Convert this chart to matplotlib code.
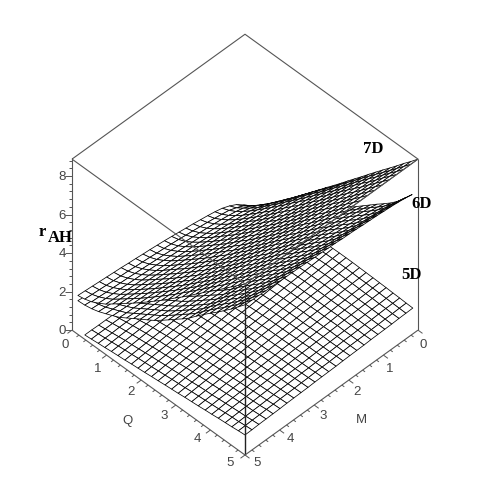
import numpy as np
import matplotlib
matplotlib.use("Agg")
import matplotlib.pyplot as plt
from mpl_toolkits.mplot3d import proj3d

# Sample positions of each mesh
Q_6D_7D = [.17,.37,.57,.77,.98,1.18,1.38,1.58,1.78,1.98,2.18,2.38,2.59,2.79,2.99,3.19,3.39,3.59,3.79,3.99,4.20,4.40,4.60,4.80,5]
M_7D = [0,.21,.42,.62,.83,1.04,1.25,1.46,1.67,1.88,2.08,2.29,2.5,2.71,2.92,3.12,3.33,3.54,3.75,3.96,4.17,4.38,4.58,4.79,5]
M_6D = [.17,.37,.57,.77,.98,1.18,1.38,1.58,1.78,1.98,2.18,2.38,2.59,2.79,2.99,3.19,3.39,3.59,3.79,3.99,4.20,4.40,4.60,4.80,5]
Q_5D = [.37,.56,.76,.95,1.14,1.33,1.53,1.72,1.91,2.10,2.30,2.49,2.69,2.88,3.07,3.26,3.46,3.65,3.85,4.04,4.23,4.43,4.62,4.81,5]
M_5D = [.15,.35,.55,.76,.96,1.16,1.36,1.56,1.77,1.97,2.17,2.37,2.58,2.78,2.98,3.18,3.38,3.59,3.79,3.99,4.19,4.39,4.60,4.80,5]

# r_AH in hundredths; one row per M, one column per Q
R_7D = [
[2,32,69,105,142,179,217,254,291,328,365,402,440,477,515,552,589,627,664,701,739,776,814,850,888],
[51,73,101,132,166,201,236,271,307,343,379,414,451,487,524,560,596,633,669,705,742,778,815,851,888],
[80,99,123,152,183,217,250,284,318,354,389,424,459,495,531,566,601,638,673,709,745,781,817,852,888],
[99,115,139,165,195,227,260,293,327,361,395,429,465,500,535,569,605,641,676,711,746,781,818,853,888],
[114,129,149,175,205,236,268,300,333,366,401,434,469,503,538,572,607,643,678,712,747,783,818,853,888],
[123,136,156,181,210,241,272,304,335,369,403,436,470,505,540,573,608,643,678,713,748,783,818,853,888],
[130,142,162,186,214,244,275,307,338,371,405,438,472,506,541,574,609,644,679,713,748,783,818,853,888],
[136,148,167,190,218,248,279,310,340,373,406,439,473,507,542,575,610,645,680,714,749,784,819,853,888],
[142,153,171,194,222,251,281,312,342,375,408,441,474,508,543,576,611,645,680,714,749,784,819,853,888],
[147,158,175,198,225,254,284,314,344,377,409,442,476,509,544,577,611,646,681,715,749,784,819,853,888],
[152,162,179,202,228,257,287,317,347,379,411,443,477,510,544,577,612,646,681,715,749,784,819,853,888],
[157,167,183,205,232,260,289,319,349,381,412,445,478,511,545,578,612,647,682,715,750,785,819,853,888],
[162,171,187,209,235,263,292,322,351,382,414,447,479,512,546,579,613,647,682,716,750,785,819,853,888],
[166,175,191,212,237,265,294,324,353,384,416,448,480,513,547,580,614,648,683,716,750,785,819,853,888],
[170,178,194,215,240,268,297,326,355,386,417,449,481,514,548,581,614,648,683,716,751,785,820,853,888],
[173,182,197,218,243,270,299,328,357,387,418,450,482,515,549,581,615,649,683,717,751,785,820,853,888],
[177,185,200,221,245,272,301,330,359,389,420,451,483,516,549,582,616,649,684,717,751,785,820,853,888],
[180,188,203,223,247,274,303,332,360,390,421,452,484,517,550,582,616,650,684,717,751,786,820,854,888],
[184,192,206,226,250,277,305,334,362,392,422,453,485,518,551,583,616,650,684,718,752,786,820,854,888],
[187,194,209,228,252,279,307,335,363,393,423,454,486,518,551,584,617,651,685,718,752,786,820,854,888],
[190,197,211,230,254,281,309,337,365,394,424,455,487,519,552,584,617,651,685,718,752,786,820,854,888],
[193,200,214,233,256,283,310,338,366,396,426,456,488,520,553,585,618,652,685,719,752,786,820,854,888],
[196,203,216,235,258,285,312,340,368,397,427,457,489,521,553,585,618,652,686,719,753,787,820,854,888],
[199,206,219,237,260,287,314,342,369,398,428,458,490,521,554,586,619,652,686,719,753,787,820,854,888],
[202,209,221,240,262,289,316,344,371,400,429,459,491,522,555,586,619,653,686,720,753,787,821,854,888],
]
R_6D = [
[10,30,55,80,110,140,170,200,238,262,290,315,342,370,398,425,455,485,515,545,575,605,640,683,726],
[49,75,98,121,145,171,195,219,245,269,296,321,348,376,404,431,461,492,522,553,583,614,649,691,733],
[62,86,107,129,152,177,201,224,250,273,300,325,352,380,408,435,465,497,528,558,589,620,655,696,738],
[72,94,114,135,157,181,205,228,253,277,303,328,355,383,411,439,469,500,532,562,593,624,659,700,742],
[81,101,120,140,162,185,208,232,257,280,306,330,358,386,414,441,471,504,535,566,597,628,663,704,745],
[88,107,125,144,166,188,211,234,259,283,308,333,360,388,416,444,474,506,538,569,600,632,666,707,748],
[95,113,130,149,170,192,214,237,262,285,311,335,362,390,419,446,476,509,541,572,603,635,670,710,750],
[101,118,134,152,173,194,216,239,264,287,313,337,364,392,421,448,478,511,543,574,606,638,672,712,752],
[107,123,138,156,176,197,218,242,266,290,314,338,366,394,422,450,480,513,545,577,608,641,675,715,755],
[113,127,142,159,179,200,220,244,268,292,316,340,368,396,424,452,482,515,547,579,611,643,678,717,757],
[117,131,145,162,181,202,222,246,270,293,318,341,369,397,426,453,483,517,549,581,613,645,680,719,758],
[123,136,149,165,184,204,224,248,272,295,319,343,371,399,427,455,485,519,551,583,615,648,682,721,761],
[127,139,152,168,187,206,226,250,274,297,321,344,372,400,429,456,486,521,553,585,617,650,684,723,762],
[132,143,155,170,189,208,228,251,275,298,322,346,374,402,430,458,488,522,555,587,619,652,686,725,764],
[136,146,158,173,191,210,230,253,277,300,324,347,375,403,432,459,489,524,557,589,621,654,688,727,765],
[140,150,161,175,194,212,231,255,278,302,325,348,376,404,433,461,491,525,558,591,623,656,690,729,767],
[145,153,164,178,196,214,233,256,280,303,326,350,378,406,434,462,492,527,560,592,625,658,692,730,769],
[147,156,166,180,197,215,234,257,281,304,327,351,378,406,435,463,493,528,561,594,626,659,693,732,770],
[152,159,169,182,200,217,236,259,283,306,329,352,380,408,437,464,494,530,563,595,628,661,695,733,771],
[155,161,171,184,201,219,237,260,284,307,330,353,381,409,438,465,495,531,564,597,629,663,697,735,772],
[159,165,174,187,204,221,239,262,285,308,331,354,382,410,439,467,497,532,566,598,631,665,699,736,774],
[162,167,176,188,205,222,240,263,286,309,332,355,383,411,440,468,498,533,567,600,632,666,700,738,775],
[166,171,179,191,207,224,242,265,288,311,333,356,384,412,441,469,499,535,569,601,634,668,702,739,777],
[171,174,182,193,210,226,243,266,289,312,335,358,386,414,443,471,501,536,570,603,636,670,704,741,778],
[175,178,185,196,212,228,245,268,291,314,336,359,387,415,444,472,502,538,572,605,638,672,706,743,780],
]
R_5D = [
[15,40,60,78,93,105,115,123,130,135,139,142,144,145,145,145,144,143,142,141,140,138,137,135,134],
[15,39,59,76,91,102,112,120,127,132,136,139,141,142,142,142,141,140,140,139,138,136,135,134,133],
[16,39,58,74,88,100,109,117,123,128,132,135,137,139,139,139,138,138,137,136,136,134,134,132,132],
[16,38,56,72,86,97,106,113,120,125,129,132,134,135,136,136,136,135,135,134,134,133,132,131,130],
[16,38,55,70,84,94,103,110,117,121,125,128,131,132,133,133,133,132,132,132,132,131,130,129,129],
[17,37,54,69,81,91,100,107,113,118,122,125,127,129,129,130,130,130,130,130,130,129,129,128,128],
[17,37,52,67,79,89,97,104,110,114,118,121,124,126,126,127,127,127,127,128,128,127,127,126,127],
[17,36,51,65,77,86,94,101,107,111,115,118,121,122,123,124,124,125,125,125,126,125,125,125,125],
[18,35,50,63,74,83,91,98,103,108,112,115,117,119,120,121,122,122,123,123,124,123,124,124,124],
[18,35,49,61,72,81,88,94,100,104,108,111,114,116,117,118,119,119,120,121,122,121,122,122,123],
[18,34,48,59,70,78,85,91,97,101,105,108,111,113,114,115,116,117,118,119,120,120,120,121,122],
[19,34,46,57,67,75,82,88,93,97,101,104,107,109,111,112,113,114,115,116,118,118,119,119,120],
[19,33,45,56,65,73,79,85,90,94,98,101,104,106,108,110,111,112,113,114,116,116,117,118,119],
[19,32,44,54,63,70,76,82,87,91,95,98,101,103,104,107,108,109,111,112,113,114,115,117,118],
[20,32,43,52,60,67,73,79,83,87,91,94,97,100,101,104,105,106,108,110,111,112,114,115,117],
[20,31,41,50,58,64,70,75,80,84,88,91,94,96,98,101,102,104,106,107,109,111,112,114,115],
[20,31,40,48,56,62,67,72,77,80,84,87,91,93,95,98,99,101,103,105,107,109,110,112,114],
[21,30,39,46,53,59,64,69,73,77,81,84,88,90,92,95,97,98,101,103,105,107,109,111,113],
[21,30,38,44,51,56,61,66,70,73,77,80,84,87,89,92,94,96,98,101,103,105,107,110,112],
[21,29,36,42,49,54,58,63,67,70,74,77,81,84,86,89,91,93,96,98,101,103,105,108,110],
[22,28,35,41,46,51,55,60,63,67,70,73,77,81,83,86,88,91,94,96,99,101,103,107,109],
[22,28,34,39,44,48,52,56,60,63,67,70,74,77,80,83,85,88,91,94,97,100,102,105,108],
[22,27,32,37,42,45,49,53,57,60,64,67,71,74,76,80,83,85,89,92,95,98,100,104,107],
[23,27,31,35,39,43,46,50,53,56,60,63,67,70,73,77,80,83,86,89,93,96,98,102,105],
[23,26,30,33,37,40,43,47,50,53,57,60,64,67,70,74,77,80,84,87,91,94,97,101,104],
]
AXIS_TICKS = [0, 1, 2, 3, 4, 5]
AXIS_MINOR = [.2,.4,.6,.8,1.2,1.4,1.6,1.8,2.2,2.4,2.6,2.8,3.2,3.4,3.6,3.8,4.2,4.4,4.6,4.8]
Z_TICKS = [0, 2, 4, 6, 8]
Z_MINOR = [.4,.8,1.2,1.6,2.4,2.8,3.2,3.6,4.4,4.8,5.2,5.6,6.4,6.8,7.2,7.6,8.4,8.8]
Z_TOP = 8.88
AX_MAX = 5
W = H = 491
GRAY = "#555555"

fig = plt.figure(figsize=(W / 100, H / 100), dpi=100, facecolor="white")
ax = fig.add_axes([0, 0, 1, 1], projection="3d", computed_zorder=False, proj_type="ortho")
ax.view_init(elev=46.2, azim=45)
ax.set_box_aspect((1, 1, 1.01))
ax.set_xlim(0, AX_MAX)
ax.set_ylim(0, AX_MAX)
ax.set_zlim(0, Z_TOP)
ax.set_axis_off()
ax.patch.set_alpha(0)

# x axis of the 3D axes is M, y axis is Q: this puts Q=5,M=0 on the right
def surface(Q, M, R, order):
    qq, mm = np.meshgrid(Q, M)
    ax.plot_surface(mm, qq, np.array(R) / 100, rstride=1, cstride=1, color="white",
                    edgecolor="black", linewidth=0.55, shade=False, antialiased=True,
                    zorder=order)

surface(Q_5D, M_5D, R_5D, 1)
surface(Q_6D_7D, M_6D, R_6D, 2)
surface(Q_6D_7D, M_7D, R_7D, 3)

def line(m, q, z, lw=0.8, color=GRAY):
    ax.plot(m, q, z, color=color, lw=lw, zorder=5, clip_on=False, solid_capstyle="butt")

# box frame
line([AX_MAX, 0, 0, AX_MAX, AX_MAX], [0, 0, AX_MAX, AX_MAX, 0], [Z_TOP] * 5)
line([AX_MAX, AX_MAX], [0, 0], [0, Z_TOP])
line([0, 0], [AX_MAX, AX_MAX], [0, Z_TOP])
line([AX_MAX, AX_MAX], [AX_MAX, AX_MAX], [0, Z_TOP], lw=1.0, color="#222222")
line([AX_MAX, AX_MAX], [0, AX_MAX], [0, 0])
line([0, AX_MAX], [AX_MAX, AX_MAX], [0, 0])

# ticks
for vals, d in ((AXIS_TICKS, .13), (AXIS_MINOR, .07)):
    for v in vals:
        line([AX_MAX, AX_MAX + d], [v, v], [0, 0], lw=0.7)
        line([v, v], [AX_MAX, AX_MAX + d], [0, 0], lw=0.7)
for vals, d in ((Z_TICKS, .1), (Z_MINOR, .05)):
    for v in vals:
        line([AX_MAX, AX_MAX + d], [0, -d], [v, v], lw=0.7)

# Fit the axes to the box corners seen in the reference
def frac(m, q, z):
    x, y, _ = proj3d.proj_transform(m, q, z, ax.get_proj())
    return ax.transAxes.inverted().transform(ax.transData.transform((x, y)))

ax.apply_aspect()
left = frac(AX_MAX, 0, 0)
right = frac(0, AX_MAX, 0)
front = frac(AX_MAX, AX_MAX, 0)
w_px = 346 / (right[0] - left[0])
x0 = 72 - w_px * left[0]
y0 = (H - 455) - w_px * front[1]
ax.set_position([x0 / W, y0 / H, w_px / W, w_px / H])
ax.apply_aspect()

def px(m, q, z):
    x, y, _ = proj3d.proj_transform(m, q, z, ax.get_proj())
    dx, dy = ax.transData.transform((x, y))
    return dx, H - dy

def label(x, y, s, **kw):
    fig.text(x / W, 1 - y / H, s, ha="center", va="center", **kw)

sans = dict(family="Liberation Sans", fontsize=9.5, color="#444444")
serif = dict(family="Liberation Serif", fontweight="bold", color="black", fontsize=12)

for v in AXIS_TICKS:
    x, y = px(AX_MAX, v, 0)
    label(x - 7 - 1.6 * v, y + 15 - 1.4 * v, str(v), **sans)
    x, y = px(v, AX_MAX, 0)
    label(x + 5 + 1.4 * v, y + 15 - 1.4 * v, str(v), **sans)
for v in Z_TICKS:
    x, y = px(AX_MAX, 0, v)
    label(x - 10, y + 1, str(v), **sans)

label(128, 421, "Q", **sans)
label(361, 420, "M", **sans)
label(42, 232, "r", **serif)
label(60, 238, "AH", **serif)
label(373, 149, "7D", **serif)
label(422, 204, "6D", **serif)
label(412, 275, "5D", **serif)

fig.savefig("out.png", dpi=100, facecolor="white")
